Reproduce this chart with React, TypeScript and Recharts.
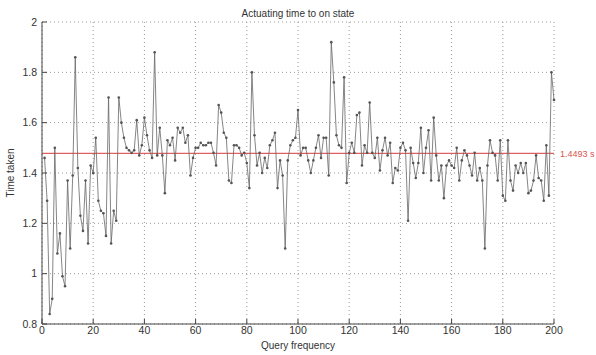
import {
  CartesianGrid,
  Line,
  LineChart,
  ReferenceLine,
  XAxis,
  YAxis,
} from "recharts";

// time taken per query (index 1..200)
const timeTaken = [
  1.46, 1.29, 0.84, 0.9, 1.5, 1.08, 1.16, 0.99, 0.95, 1.37,
  1.1, 1.39, 1.86, 1.42, 1.23, 1.17, 1.37, 1.12, 1.43, 1.4,
  1.54, 1.29, 1.25, 1.24, 1.15, 1.7, 1.12, 1.25, 1.21, 1.7,
  1.6, 1.54, 1.5, 1.49, 1.48, 1.49, 1.61, 1.47, 1.51, 1.62,
  1.55, 1.49, 1.46, 1.88, 1.47, 1.58, 1.47, 1.32, 1.53, 1.51,
  1.54, 1.45, 1.58, 1.56, 1.58, 1.52, 1.55, 1.39, 1.46, 1.5,
  1.5, 1.52, 1.51, 1.51, 1.52, 1.52, 1.48, 1.43, 1.67, 1.64,
  1.56, 1.54, 1.37, 1.36, 1.51, 1.51, 1.5, 1.47, 1.48, 1.44,
  1.34, 1.8, 1.55, 1.43, 1.48, 1.4, 1.46, 1.42, 1.51, 1.53,
  1.56, 1.34, 1.45, 1.39, 1.1, 1.45, 1.51, 1.53, 1.54, 1.65,
  1.47, 1.5, 1.5, 1.45, 1.4, 1.45, 1.5, 1.55, 1.46, 1.54,
  1.54, 1.39, 1.92, 1.76, 1.55, 1.51, 1.5, 1.78, 1.36, 1.48,
  1.52, 1.48, 1.63, 1.64, 1.43, 1.51, 1.48, 1.68, 1.48, 1.46,
  1.54, 1.41, 1.49, 1.54, 1.47, 1.52, 1.36, 1.42, 1.41, 1.5,
  1.52, 1.49, 1.21, 1.5, 1.44, 1.38, 1.44, 1.58, 1.4, 1.5,
  1.57, 1.37, 1.62, 1.47, 1.37, 1.43, 1.3, 1.43, 1.45, 1.43,
  1.42, 1.5, 1.37, 1.45, 1.49, 1.47, 1.43, 1.39, 1.48, 1.37,
  1.42, 1.37, 1.1, 1.43, 1.53, 1.48, 1.47, 1.37, 1.53, 1.31,
  1.29, 1.53, 1.37, 1.33, 1.43, 1.4, 1.44, 1.4, 1.44, 1.32,
  1.33, 1.37, 1.47, 1.38, 1.37, 1.29, 1.51, 1.31, 1.8, 1.69,
];

const xTicks = [0, 20, 40, 60, 80, 100, 120, 140, 160, 180, 200];
const yTicks = [0.8, 1, 1.2, 1.4, 1.6, 1.8, 2];

// drawn where the red line sits in the picture; its label gives the mean
const meanLine = 1.478;
const meanLabel = "1.4493 s";

const data = timeTaken.map((t, i) => ({ q: i + 1, t }));

const FONT = "'Liberation Sans', Arial, sans-serif";
const AXIS = "#444";
const TEXT = "#333";

function BottomTick({ x, y, payload }: any) {
  return (
    <g>
      <line x1={x} x2={x} y1={y} y2={y - 5} stroke={AXIS} />
      <text x={x} y={y + 3} dy="0.71em" textAnchor="middle" fontSize={10.5} fill={TEXT} fontFamily={FONT}>
        {payload.value}
      </text>
    </g>
  );
}

function TopTick({ x, y }: any) {
  return <line x1={x} x2={x} y1={y} y2={y + 5} stroke={AXIS} />;
}

function LeftTick({ x, y, payload }: any) {
  return (
    <g>
      <line x1={x} x2={x + 5} y1={y} y2={y} stroke={AXIS} />
      <text x={x - 5} y={y} dy="0.35em" textAnchor="end" fontSize={10.5} fill={TEXT} fontFamily={FONT}>
        {String(payload.value)}
      </text>
    </g>
  );
}

function RightTick({ x, y }: any) {
  return <line x1={x} x2={x - 5} y1={y} y2={y} stroke={AXIS} />;
}

function MeanLabel({ viewBox }: any) {
  if (!viewBox) return null;
  return (
    <text
      x={viewBox.x + viewBox.width + 6}
      y={viewBox.y}
      dy="0.35em"
      fontSize={9}
      fill="#d9534f"
      fontFamily={FONT}
    >
      {meanLabel}
    </text>
  );
}

export default function App() {
  return (
    <div style={{ position: "absolute", left: 0, top: 0, width: 596, height: 355, background: "#fff" }}>
      <div
        style={{
          position: "absolute",
          left: 0,
          top: 8,
          width: 596,
          textAlign: "center",
          fontFamily: FONT,
          fontSize: 10,
          color: TEXT,
          lineHeight: "12px",
        }}
      >
        Actuating time to on state
      </div>
      <LineChart width={596} height={355} data={data} margin={{ top: 22, right: 42, bottom: 0, left: 0 }}>
        <CartesianGrid stroke="#999" strokeDasharray="1 3" />
        <XAxis
          dataKey="q"
          type="number"
          domain={[0, 200]}
          ticks={xTicks}
          height={31}
          tickSize={0}
          tickMargin={0}
          tickLine={false}
          tick={<BottomTick />}
          stroke={AXIS}
          label={{ value: "Query frequency", position: "insideBottom", offset: 6, fontSize: 10, fill: TEXT, fontFamily: FONT }}
        />
        <XAxis
          xAxisId="top"
          orientation="top"
          type="number"
          domain={[0, 200]}
          ticks={xTicks}
          height={0}
          tickSize={0}
          tickMargin={0}
          tickLine={false}
          tick={<TopTick />}
          stroke={AXIS}
        />
        <YAxis
          type="number"
          domain={[0.8, 2]}
          ticks={yTicks}
          width={42}
          tickSize={0}
          tickMargin={0}
          tickLine={false}
          tick={<LeftTick />}
          stroke={AXIS}
          label={{
            value: "Time taken",
            angle: -90,
            position: "insideLeft",
            offset: 10,
            fontSize: 10,
            fill: TEXT,
            fontFamily: FONT,
            style: { textAnchor: "middle" },
          }}
        />
        <YAxis
          yAxisId="right"
          orientation="right"
          type="number"
          domain={[0.8, 2]}
          ticks={yTicks}
          width={0}
          tickSize={0}
          tickMargin={0}
          tickLine={false}
          tick={<RightTick />}
          stroke={AXIS}
        />
        <ReferenceLine y={meanLine} stroke="#e06060" strokeWidth={1.2} label={<MeanLabel />} />
        <Line
          dataKey="t"
          type="linear"
          stroke="#666"
          strokeWidth={0.8}
          dot={{ r: 1.3, fill: "#555", stroke: "none" }}
          isAnimationActive={false}
        />
      </LineChart>
    </div>
  );
}
